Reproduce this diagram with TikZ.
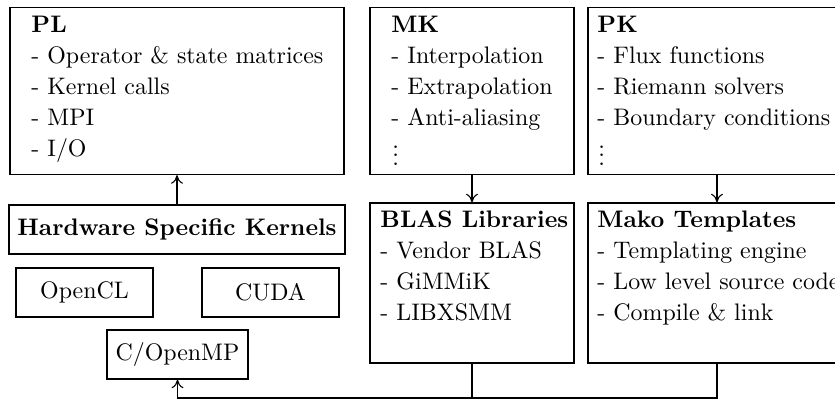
\documentclass[tikz,border=0pt]{standalone}
\usepackage{fontspec}
\usetikzlibrary{fit,arrows.meta}
\newcommand{\mydots}{\vbox{\baselineskip3.6pt\lineskiplimit0pt\hbox{.}\hbox{.}\hbox{.}}}
\begin{document}
\begin{tikzpicture}[x=0.4184pt,y=-0.4184pt,
  box/.style={draw,line width=0.5pt,inner sep=0pt,font=\fontsize{10}{12.92}\selectfont},
  sbox/.style={box,minimum height=20.5pt},
  txt/.style={inner sep=0pt,align=left,anchor=north west,font=\fontsize{10}{12.92}\selectfont},
  dotsnode/.style={inner sep=0pt,anchor=south west,font=\fontsize{10}{12.92}\selectfont},
  conn/.style={line width=0.45pt},
  arr/.style={conn,-{Computer Modern Rightarrow[length=3.6pt,width=5pt]}}]
\useasboundingbox (0,0) rectangle (835,401);
\clip (0,0) rectangle (835,401);
% boxes
\node[box,fit={(10,7.5)(344,174.5)}] (pl) {};
\node[box,fit={(370,7.5)(574,174.5)}] (mk) {};
\node[box,fit={(588,7.5)(846,174.5)}] (pk) {};
\node[box,fit={(370,203)(574,363)}] (blas) {};
\node[box,fit={(588,203)(846,363)}] (mako) {};
\node[sbox,minimum width=140.6pt] (hsk) at (177,229.5) {\textbf{Hardware Specific Kernels}};
\node[sbox,minimum width=57.3pt] (ocl) at (84.5,292.5) {OpenCL};
\node[sbox,minimum width=57.3pt] (cuda) at (270.5,292.5) {CUDA};
\node[sbox,minimum width=59pt] (omp) at (177.5,354.5) {C/OpenMP};
% texts
\node[txt] (pltxt) at (31,10.4) {\strut\textbf{PL}\\ \strut- Operator \& state matrices\\ \strut- Kernel calls\\ \strut- MPI\\ \strut- I/O};
\node[txt] (mktxt) at (391,10.4) {\strut\textbf{MK}\\ \strut- Interpolation\\ \strut- Extrapolation\\ \strut- Anti-aliasing};
\node[dotsnode] (mkdots) at (392,166) {\mydots};
\node[txt] (pktxt) at (597,10.4) {\strut\textbf{PK}\\ \strut- Flux functions\\ \strut- Riemann solvers\\ \strut- Boundary conditions};
\node[dotsnode] (pkdots) at (598,166) {\mydots};
\node[txt] (blastxt) at (380,205.4) {\strut\textbf{BLAS Libraries}\\ \strut- Vendor BLAS\\ \strut- GiMMiK\\ \strut- LIBXSMM};
\node[txt] (makotxt) at (597,205.4) {\strut\textbf{Mako Templates}\\ \strut- Templating engine\\ \strut- Low level source code\\ \strut- Compile \& link};
% connectors
\coordinate (bot) at (0,398);
\draw[arr] (hsk) -- (pl);
\draw[arr] (mk) -- (blas);
\draw[arr] (pk) -- (mako);
\draw[conn] (blas.south) -- (blas.south |- bot);
\draw[arr] (mako.south) -- (mako.south |- bot) -| (omp.south);
\end{tikzpicture}
\end{document}
